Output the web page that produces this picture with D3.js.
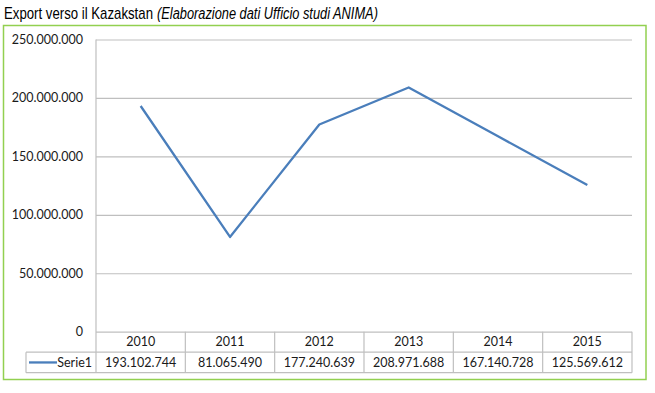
<!DOCTYPE html>
<html>
<head>
<meta charset="utf-8">
<script src="https://cdn.jsdelivr.net/npm/d3@7"></script>
<style>
  html, body { margin: 0; padding: 0; background: #fff; }
  svg { display: block; }
  .lbl { font-family: Lato, "Open Sans", sans-serif; font-size: 12.5px; fill: #1a1a1a; }
  .title { font-family: "Liberation Sans Narrow", "Arial Narrow", "Liberation Sans", sans-serif; font-size: 17px; fill: #000; }
</style>
</head>
<body>
<div id="chart"></div>
<script>

// data
var years = ["2010", "2011", "2012", "2013", "2014", "2015"];
var exportValues = [193102744, 81065490, 177240639, 208971688, 167140728, 125569612];
var yTicks = [0, 50000000, 100000000, 150000000, 200000000, 250000000];
var seriesName = "Serie1";
var titleMain = "Export verso il Kazakstan";
var titleNote = "(Elaborazione dati Ufficio studi ANIMA)";

var W = 655, H = 393;
var plot = {left: 96, right: 632, top: 39.5, bottom: 331.7};
var rowH = 20.5;

var it = d3.formatLocale({decimal: ",", thousands: ".", grouping: [3], currency: ["", "€"]});
var fmt = it.format(",d");

var svg = d3.select("#chart").append("svg")
    .attr("width", W)
    .attr("height", H);

// title: narrow face isn't there, so squeeze each piece horizontally
function narrowText(str, x0, width, italic) {
    var t = svg.append("text")
        .attr("class", "title")
        .style("font-style", italic ? "italic" : null)
        .text(str);
    var natural = t.node().getComputedTextLength();
    t.attr("transform", "translate(" + x0 + ",18.5) scale(" + (width / natural) + ",1)");
    return t;
}
narrowText(titleMain, 4, 149, false);
narrowText(titleNote, 157, 221, true);

// green frame
svg.append("rect")
    .attr("x", 3.5)
    .attr("y", 25.5)
    .attr("width", 642.5)
    .attr("height", 354)
    .attr("fill", "none")
    .attr("stroke", "#92d050")
    .attr("stroke-width", 1.5);

var x = d3.scaleBand()
    .domain(years)
    .range([plot.left, plot.right]);

var y = d3.scaleLinear()
    .domain([0, 250000000])
    .range([plot.bottom, plot.top]);

// gridlines + tick labels
var yAxis = svg.append("g")
    .attr("transform", "translate(" + plot.left + ",0)")
    .call(d3.axisLeft(y)
        .tickValues(yTicks)
        .tickSize(-(plot.right - plot.left))
        .tickPadding(13)
        .tickFormat(fmt));

yAxis.select(".domain").remove();
yAxis.selectAll(".tick line")
    .attr("stroke", "#bfbfbf")
    .attr("stroke-width", 1.2);
yAxis.selectAll(".tick text")
    .attr("class", "lbl")
    .attr("font-family", null)
    .attr("font-size", null);

// vertical axis line
svg.append("line")
    .attr("x1", plot.left).attr("x2", plot.left)
    .attr("y1", plot.top).attr("y2", plot.bottom + 2 * rowH)
    .attr("stroke", "#bfbfbf")
    .attr("stroke-width", 1.2);

// series line
var line = d3.line()
    .x(function (d, i) { return x(years[i]) + x.bandwidth() / 2; })
    .y(function (d) { return y(d); });

svg.append("path")
    .datum(exportValues)
    .attr("d", line)
    .attr("fill", "none")
    .attr("stroke", "#4a7ebb")
    .attr("stroke-width", 2.3)
    .attr("stroke-linejoin", "round");

// ****************** data table ***************************
var tableLeft = 26;
var tbl = svg.append("g")
    .attr("stroke", "#bfbfbf")
    .attr("stroke-width", 1.2);

// horizontal lines
tbl.append("line")
    .attr("x1", tableLeft).attr("x2", plot.right)
    .attr("y1", plot.bottom + rowH).attr("y2", plot.bottom + rowH);
tbl.append("line")
    .attr("x1", tableLeft).attr("x2", plot.right)
    .attr("y1", plot.bottom + 2 * rowH).attr("y2", plot.bottom + 2 * rowH);
tbl.append("line")
    .attr("x1", tableLeft).attr("x2", tableLeft)
    .attr("y1", plot.bottom + rowH).attr("y2", plot.bottom + 2 * rowH);

// column separators
tbl.selectAll("line.col")
    .data(years)
    .enter().append("line")
    .attr("class", "col")
    .attr("x1", function (d) { return x(d) + x.bandwidth(); })
    .attr("x2", function (d) { return x(d) + x.bandwidth(); })
    .attr("y1", plot.bottom)
    .attr("y2", plot.bottom + 2 * rowH);

svg.selectAll("text.year")
    .data(years)
    .enter().append("text")
    .attr("class", "lbl year")
    .attr("x", function (d) { return x(d) + x.bandwidth() / 2; })
    .attr("y", plot.bottom + rowH / 2)
    .attr("dy", "0.36em")
    .attr("text-anchor", "middle")
    .text(function (d) { return d; });

svg.selectAll("text.val")
    .data(exportValues)
    .enter().append("text")
    .attr("class", "lbl val")
    .attr("x", function (d, i) { return x(years[i]) + x.bandwidth() / 2; })
    .attr("y", plot.bottom + rowH * 1.5)
    .attr("dy", "0.36em")
    .attr("text-anchor", "middle")
    .text(function (d) { return fmt(d); });

// legend key
svg.append("line")
    .attr("x1", 29).attr("x2", 57)
    .attr("y1", plot.bottom + rowH * 1.5).attr("y2", plot.bottom + rowH * 1.5)
    .attr("stroke", "#4a7ebb")
    .attr("stroke-width", 2.3);

svg.append("text")
    .attr("class", "lbl")
    .attr("x", 92)
    .attr("y", plot.bottom + rowH * 1.5)
    .attr("dy", "0.36em")
    .attr("text-anchor", "end")
    .text(seriesName);

</script>
</body>
</html>
